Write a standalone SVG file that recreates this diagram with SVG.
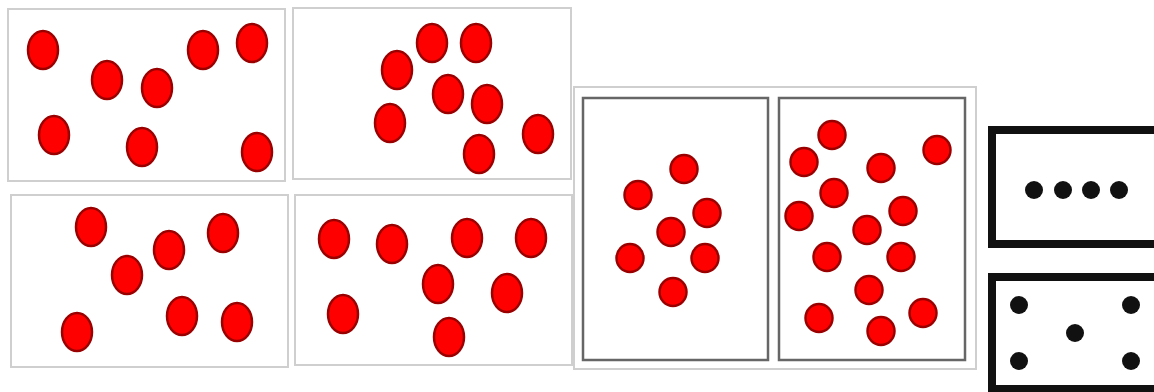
<svg xmlns="http://www.w3.org/2000/svg" width="1154" height="392" viewBox="0 0 1154 392">
<defs>
<style>
.bg{fill:#ffffff}
.lf{fill:none;stroke:#cfcfcf;stroke-width:2}
.df{fill:#ffffff;stroke:#666666;stroke-width:2.5}
.rd{fill:#ff0000;stroke:#9a0000;stroke-width:2.5}
.bk{fill:none;stroke:#111111;stroke-width:8}
.bd{fill:#111111}
</style>
</defs>
<rect class="bg" x="0" y="0" width="1154" height="392"/>
<g id="panel1">
<rect class="lf" x="8" y="9" width="277" height="172"/>
<ellipse class="rd" cx="43" cy="50" rx="15" ry="19"/>
<ellipse class="rd" cx="107" cy="80" rx="15" ry="19"/>
<ellipse class="rd" cx="157" cy="88" rx="15" ry="19"/>
<ellipse class="rd" cx="203" cy="50" rx="15" ry="19"/>
<ellipse class="rd" cx="252" cy="43" rx="15" ry="19"/>
<ellipse class="rd" cx="54" cy="135" rx="15" ry="19"/>
<ellipse class="rd" cx="142" cy="147" rx="15" ry="19"/>
<ellipse class="rd" cx="257" cy="152" rx="15" ry="19"/>
</g>
<g id="panel2">
<rect class="lf" x="293" y="8" width="278" height="171"/>
<ellipse class="rd" cx="397" cy="70" rx="15" ry="19"/>
<ellipse class="rd" cx="432" cy="43" rx="15" ry="19"/>
<ellipse class="rd" cx="476" cy="43" rx="15" ry="19"/>
<ellipse class="rd" cx="448" cy="94" rx="15" ry="19"/>
<ellipse class="rd" cx="487" cy="104" rx="15" ry="19"/>
<ellipse class="rd" cx="390" cy="123" rx="15" ry="19"/>
<ellipse class="rd" cx="538" cy="134" rx="15" ry="19"/>
<ellipse class="rd" cx="479" cy="154" rx="15" ry="19"/>
</g>
<g id="panel3">
<rect class="lf" x="11" y="195" width="277" height="172"/>
<ellipse class="rd" cx="91" cy="227" rx="15" ry="19"/>
<ellipse class="rd" cx="127" cy="275" rx="15" ry="19"/>
<ellipse class="rd" cx="169" cy="250" rx="15" ry="19"/>
<ellipse class="rd" cx="223" cy="233" rx="15" ry="19"/>
<ellipse class="rd" cx="77" cy="332" rx="15" ry="19"/>
<ellipse class="rd" cx="182" cy="316" rx="15" ry="19"/>
<ellipse class="rd" cx="237" cy="322" rx="15" ry="19"/>
</g>
<g id="panel4">
<rect class="lf" x="295" y="195" width="277" height="170"/>
<ellipse class="rd" cx="334" cy="239" rx="15" ry="19"/>
<ellipse class="rd" cx="392" cy="244" rx="15" ry="19"/>
<ellipse class="rd" cx="467" cy="238" rx="15" ry="19"/>
<ellipse class="rd" cx="531" cy="238" rx="15" ry="19"/>
<ellipse class="rd" cx="438" cy="284" rx="15" ry="19"/>
<ellipse class="rd" cx="507" cy="293" rx="15" ry="19"/>
<ellipse class="rd" cx="343" cy="314" rx="15" ry="19"/>
<ellipse class="rd" cx="449" cy="337" rx="15" ry="19"/>
</g>
<g id="frame56">
<rect class="lf" x="574" y="87" width="402" height="282"/>
</g>
<g id="panel5">
<rect class="df" x="583" y="98" width="185" height="262"/>
<ellipse class="rd" cx="684" cy="169" rx="13.5" ry="14"/>
<ellipse class="rd" cx="638" cy="195" rx="13.5" ry="14"/>
<ellipse class="rd" cx="707" cy="213" rx="13.5" ry="14"/>
<ellipse class="rd" cx="671" cy="232" rx="13.5" ry="14"/>
<ellipse class="rd" cx="630" cy="258" rx="13.5" ry="14"/>
<ellipse class="rd" cx="705" cy="258" rx="13.5" ry="14"/>
<ellipse class="rd" cx="673" cy="292" rx="13.5" ry="14"/>
</g>
<g id="panel6">
<rect class="df" x="779" y="98" width="186" height="262"/>
<ellipse class="rd" cx="832" cy="135" rx="13.5" ry="14"/>
<ellipse class="rd" cx="804" cy="162" rx="13.5" ry="14"/>
<ellipse class="rd" cx="937" cy="150" rx="13.5" ry="14"/>
<ellipse class="rd" cx="881" cy="168" rx="13.5" ry="14"/>
<ellipse class="rd" cx="834" cy="193" rx="13.5" ry="14"/>
<ellipse class="rd" cx="799" cy="216" rx="13.5" ry="14"/>
<ellipse class="rd" cx="903" cy="211" rx="13.5" ry="14"/>
<ellipse class="rd" cx="867" cy="230" rx="13.5" ry="14"/>
<ellipse class="rd" cx="827" cy="257" rx="13.5" ry="14"/>
<ellipse class="rd" cx="901" cy="257" rx="13.5" ry="14"/>
<ellipse class="rd" cx="869" cy="290" rx="13.5" ry="14"/>
<ellipse class="rd" cx="819" cy="318" rx="13.5" ry="14"/>
<ellipse class="rd" cx="923" cy="313" rx="13.5" ry="14"/>
<ellipse class="rd" cx="881" cy="331" rx="13.5" ry="14"/>
</g>
<g id="panel7">
<rect class="bk" x="992" y="130" width="170" height="114"/>
<circle class="bd" cx="1034" cy="190" r="9"/>
<circle class="bd" cx="1063" cy="190" r="9"/>
<circle class="bd" cx="1091" cy="190" r="9"/>
<circle class="bd" cx="1119" cy="190" r="9"/>
</g>
<g id="panel8">
<rect class="bk" x="992" y="277" width="170" height="112"/>
<circle class="bd" cx="1019" cy="305" r="9"/>
<circle class="bd" cx="1131" cy="305" r="9"/>
<circle class="bd" cx="1075" cy="333" r="9"/>
<circle class="bd" cx="1019" cy="361" r="9"/>
<circle class="bd" cx="1131" cy="361" r="9"/>
</g>
<g id="connectors"/>
</svg>
